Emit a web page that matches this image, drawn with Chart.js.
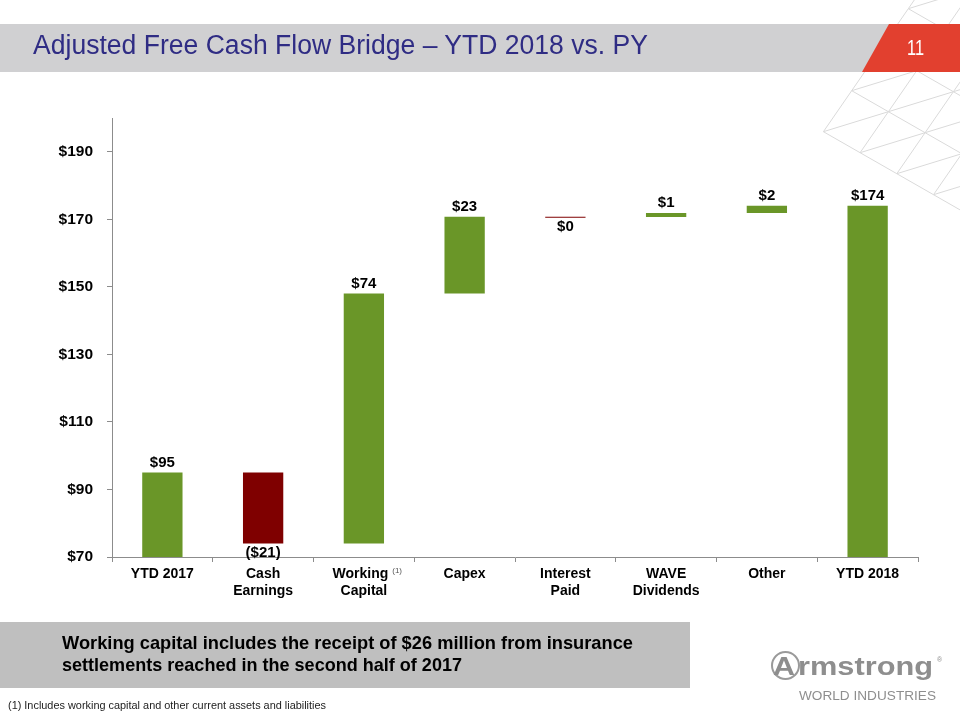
<!DOCTYPE html>
<html><head><meta charset="utf-8">
<script src="https://cdn.jsdelivr.net/npm/chart.js@4.4.1/dist/chart.umd.min.js"></script>
<style>
html,body{margin:0;padding:0;background:#fff}
body{width:960px;height:720px;position:relative;overflow:hidden;font-family:"Liberation Sans",Arial,sans-serif}
#lattice{position:absolute;left:0;top:0;z-index:0}
.band{position:absolute;z-index:1}
#chart{position:absolute;left:0;top:0;z-index:2}
.txt{position:absolute;z-index:3;white-space:nowrap;line-height:1;transform-origin:0 0}
</style></head><body>
<canvas id="lattice" width="960" height="720"></canvas>
<div class="band" style="left:0;top:24px;width:960px;height:48px;background:#d0d0d2"></div>
<div class="band" style="left:0;top:24px;width:960px;height:48px;background:#e2402f;clip-path:polygon(889px 0,960px 0,960px 48px,862px 48px)"></div>
<div class="band" style="left:0;top:622px;width:690px;height:66px;background:#bfbfbf"></div>
<div class="band" style="left:771px;top:651px;width:29px;height:29px;box-sizing:border-box;border:2.5px solid #9a9a9a;border-radius:50%"></div>
<canvas id="chart" width="960" height="720"></canvas>
<script>
// ---- data ----
const categories = [["YTD 2017"], ["Cash", "Earnings"], ["Working", "Capital"], ["Capex"], ["Interest", "Paid"], ["WAVE", "Dividends"], ["Other"], ["YTD 2018"]];
const footnoteMarks = ["", "", "(1)", "", "", "", "", ""];
const barStart = [0, 95, 74, 148, 170.75, 170.7, 171.9, 0];
const barEnd   = [95, 74, 148, 170.75, 170.45, 171.9, 174, 174];
const valueLabels = ["$95", "($21)", "$74", "$23", "$0", "$1", "$2", "$174"];
const yTicks = [70, 90, 110, 130, 150, 170, 190];
const yMin = 70, yMax = 200;

const GREEN = '#6a9628', RED = '#7f0000';
const FONT = '"Liberation Sans", Arial, sans-serif';

// ---- decorative lattice ----
(function(){
  const c = document.getElementById('lattice').getContext('2d');
  const O = [851.7, 90.7], A = [36.7, 21], B = [-28.3, 41];
  const P = (i,j) => [O[0] + i*A[0] + j*B[0], O[1] + i*A[1] + j*B[1]];
  const ok = (i,j) => i >= 0 && j <= 1 && i <= 7 && j >= -5;
  c.strokeStyle = '#dadada'; c.lineWidth = 1;
  c.beginPath();
  for (let i = -1; i <= 8; i++) for (let j = -6; j <= 2; j++) {
    if (!ok(i,j)) continue;
    const p = P(i,j);
    [[i+1,j],[i,j+1],[i+1,j-1]].forEach(([a,b]) => {
      if (!ok(a,b)) return;
      const q = P(a,b);
      c.moveTo(p[0],p[1]); c.lineTo(q[0],q[1]);
    });
  }
  c.stroke();
})();

// ---- text ----
function placeText(str, x, baseline, fs, weight, color, fitWidth){
  const d = document.createElement('div');
  d.className = 'txt';
  d.textContent = str;
  d.style.fontSize = fs + 'px';
  d.style.fontWeight = weight;
  d.style.color = color;
  d.style.left = x + 'px';
  d.style.top = (baseline - 0.8465*fs) + 'px';
  document.body.appendChild(d);
  if (fitWidth) {
    const w = d.getBoundingClientRect().width;
    d.style.transform = 'scaleX(' + (fitWidth / w) + ')';
  }
}
placeText('Adjusted Free Cash Flow Bridge \u2013 YTD 2018 vs. PY', 33, 55, 27, 400, '#2f2c84', 615);
placeText('11', 907, 56, 22, 400, '#ffffff', 17);
placeText('Working capital includes the receipt of $26 million from insurance', 62, 649, 19, 700, '#000', 571);
placeText('settlements reached in the second half of 2017', 62, 671, 19, 700, '#000', 400);
placeText('(1) Includes working capital and other current assets and liabilities', 8, 709, 11, 400, '#222', 318);
placeText('A', 773, 675, 25, 700, '#8e8e8e', 22);
placeText('rmstrong', 798, 675, 25, 700, '#8e8e8e', 135);
placeText('\u00ae', 937, 662, 7, 400, '#8e8e8e');
placeText('WORLD INDUSTRIES', 799, 700, 13.5, 400, '#8e8e8e', 137);

// ---- chart ----
const barColors = barStart.map((s,i) => barEnd[i] < s ? RED : GREEN);

const labelPlugin = {
  id: 'vals',
  afterDatasetsDraw(chart){
    const ctx = chart.ctx, meta = chart.getDatasetMeta(0), ys = chart.scales.y;
    ctx.save();
    ctx.font = 'bold 15px ' + FONT;
    ctx.fillStyle = '#000';
    ctx.textAlign = 'center';
    ctx.textBaseline = 'alphabetic';
    meta.data.forEach((bar, i) => {
      const top = ys.getPixelForValue(Math.max(barStart[i], barEnd[i]));
      const bot = ys.getPixelForValue(Math.min(barStart[i], barEnd[i]));
      if (barEnd[i] >= barStart[i]) ctx.fillText(valueLabels[i], bar.x, top - 6);
      else ctx.fillText(valueLabels[i], bar.x, bot + 13.5);
    });
    ctx.restore();
  },
  afterDraw(chart){
    const ctx = chart.ctx, xs = chart.scales.x;
    ctx.save();
    footnoteMarks.forEach((m, i) => {
      if (!m) return;
      ctx.font = 'bold 14px ' + FONT;
      const full = ctx.measureText(categories[i][0] + '\u2002').width;
      const word = ctx.measureText(categories[i][0]).width;
      const x = xs.getPixelForTick(i) - full/2 + word + 4;
      ctx.font = '8px ' + FONT;
      ctx.fillStyle = '#555';
      ctx.textAlign = 'left';
      ctx.textBaseline = 'alphabetic';
      ctx.fillText(m, x, 573);
    });
    ctx.restore();
  }
};

new Chart(document.getElementById('chart'), {
  type: 'bar',
  data: {
    labels: categories,
    datasets: [{
      data: categories.map((c, i) => [barStart[i], barEnd[i]]),
      backgroundColor: barColors,
      borderWidth: 0,
      borderSkipped: false,
      barPercentage: 0.4,
      categoryPercentage: 1
    }]
  },
  options: {
    responsive: false,
    animation: false,
    devicePixelRatio: 1,
    font: { family: FONT },
    layout: { padding: { top: 118, right: 42, left: 0, bottom: 0 } },
    plugins: { legend: { display: false }, tooltip: { enabled: false }, title: { display: false } },
    scales: {
      x: {
        offset: true,
        grid: { drawOnChartArea: false, tickLength: 5, color: '#8c8c8c', offset: true },
        border: { color: '#8c8c8c', width: 1 },
        ticks: {
          color: '#000', padding: 3, maxRotation: 0, autoSkip: false,
          font: { family: FONT, size: 14, weight: 'bold', lineHeight: 1.25 },
          callback: (v, i) => footnoteMarks[i] ? [categories[i][0] + '\u2002'].concat(categories[i].slice(1)) : categories[i]
        },
        afterFit: s => { s.height = 163; }
      },
      y: {
        min: yMin, max: yMax,
        afterBuildTicks: s => { s.ticks = yTicks.map(v => ({ value: v })); },
        grid: { drawOnChartArea: false, tickLength: 5, color: '#8c8c8c' },
        border: { color: '#8c8c8c', width: 1 },
        ticks: { color: '#000', padding: 14, font: { family: FONT, size: 15.5, weight: 'bold' }, callback: v => '$' + v },
        afterFit: s => { s.width = 112; }
      }
    }
  },
  plugins: [labelPlugin]
});
</script>
</body></html>
